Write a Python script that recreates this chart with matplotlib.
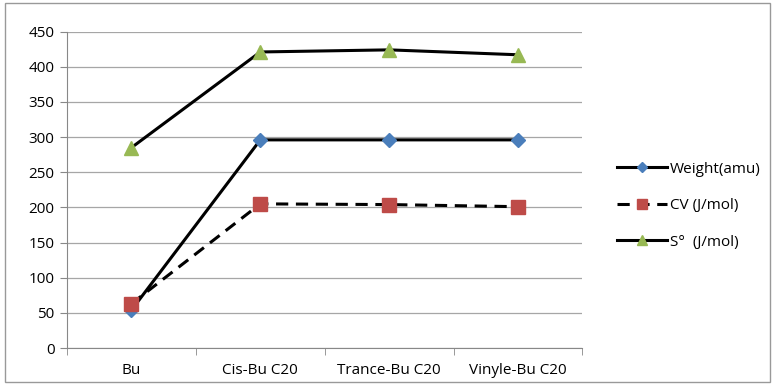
import matplotlib
matplotlib.use('Agg')
import matplotlib.pyplot as plt
from matplotlib.patches import Rectangle
import numpy as np

# data
categories = ['Bu', 'Cis-Bu C20', 'Trance-Bu C20', 'Vinyle-Bu C20']
weight_amu = [54, 296, 296, 296]
cv_jmol = [63, 205, 204, 201]
s_jmol = [285, 421, 424, 417]
y_ticks = [0, 50, 100, 150, 200, 250, 300, 350, 400, 450]

plt.rcParams['font.family'] = ['Open Sans', 'DejaVu Sans']

fig = plt.figure(figsize=(7.75, 3.85), dpi=100)
ax = fig.add_axes([0.0865, 0.096, 0.665, 0.822])

x = np.arange(len(categories))
ax.plot(x, weight_amu, color='black', lw=2.2, marker='D', ms=7,
        mfc='#4a7ebb', mec='#4a7ebb', label='Weight(amu)')
ax.plot(x, cv_jmol, color='black', lw=2.2, ls=(0, (4, 2.5)), marker='s', ms=10,
        mfc='#be4b48', mec='#be4b48', label='CV (J/mol)')
ax.plot(x, s_jmol, color='black', lw=2.2, marker='^', ms=10,
        mfc='#98b954', mec='#98b954', label='S°  (J/mol)')

ax.set_xlim(-0.5, len(categories) - 0.5)
ax.set_ylim(0, 450)
ax.set_yticks(y_ticks)
ax.set_xticks(x)
ax.set_xticklabels(categories)
ax.set_xticks(np.arange(-0.5, len(categories), 1.0), minor=True)
ax.tick_params(axis='x', which='major', length=0, pad=11, labelsize=11)
ax.tick_params(axis='x', which='minor', length=5, color='#888888', direction='out')
ax.tick_params(axis='y', length=5, color='#888888', labelsize=11, pad=4)
ax.yaxis.grid(True, color='#a6a6a6', lw=0.9)
ax.set_axisbelow(True)
for side in ['top', 'right']:
    ax.spines[side].set_visible(False)
for side in ['left', 'bottom']:
    ax.spines[side].set_color('#888888')

ax.legend(loc='center left', bbox_to_anchor=(1.04, 0.45), frameon=False,
          fontsize=11, handlelength=3.3, handletextpad=0.2, labelspacing=1.4,
          markerscale=0.7)

# outer chart border
fig.patches.append(Rectangle((0.006, 0.008), 0.988, 0.985, transform=fig.transFigure,
                             fill=False, edgecolor='#999999', lw=1))

fig.savefig('out.png', dpi=100)
